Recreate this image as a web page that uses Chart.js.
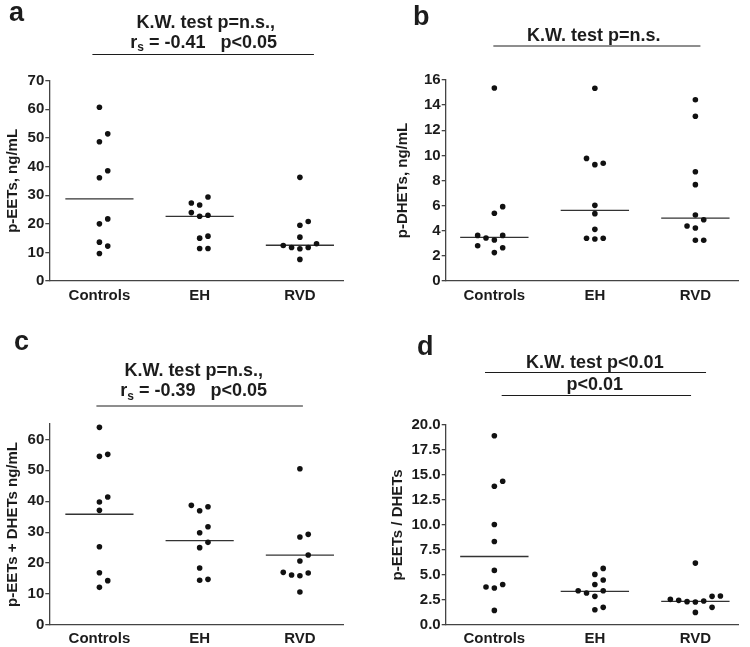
<!DOCTYPE html>
<html>
<head>
<meta charset="utf-8">
<script src="https://cdn.jsdelivr.net/npm/chart.js@4.4.1/dist/chart.umd.min.js"></script>
<style>
  body { margin: 0; background: #fff; }
  #wrap { position: relative; width: 750px; height: 647px; }
  canvas { position: absolute; }
</style>
</head>
<body>
<div id="wrap">
  <canvas id="panelA" width="375" height="310" style="left:0;top:0"></canvas>
  <canvas id="panelB" width="375" height="310" style="left:375px;top:0"></canvas>
  <canvas id="panelC" width="375" height="327" style="left:0;top:320px"></canvas>
  <canvas id="panelD" width="375" height="327" style="left:375px;top:320px"></canvas>
</div>
<script>
// --- data ---
const groups = ['Controls', 'EH', 'RVD'];

// a: p-EETs, ng/mL
const eetsControls = [60.7, 48.64, 51.43, 36.1, 38.54, 19.97, 21.71, 13.58, 12.19, 9.63];
const eetsEH = [26.58, 29.37, 27.28, 22.64, 22.99, 23.91, 14.98, 15.67, 11.38, 11.38];
const eetsRVD = [36.22, 19.5, 20.78, 15.32, 11.26, 11.73, 11.73, 12.42, 13.0, 7.55];
const eetsLines = [28.7, 22.6, 12.5];
const eetsTicks = [0, 10, 20, 30, 40, 50, 60, 70];

// b: p-DHETs, ng/mL
const dhetsControls = [15.36, 5.39, 5.92, 3.26, 3.63, 3.42, 3.63, 2.26, 2.65, 2.81];
const dhetsEH = [15.34, 9.26, 9.37, 9.76, 6.02, 5.36, 4.11, 3.34, 3.40, 3.40];
const dhetsRVD = [14.43, 13.11, 8.70, 7.67, 5.25, 4.88, 4.22, 4.38, 3.24, 3.24];
const dhetsLines = [3.48, 5.62, 5.01];
const dhetsTicks = [0, 2, 4, 6, 8, 10, 12, 14, 16];

// c: p-EETs + DHETs ng/mL
const sumControls = [63.88, 54.51, 55.15, 39.75, 41.37, 37.06, 25.31, 16.91, 12.17, 14.33];
const sumEH = [36.95, 38.24, 38.67, 29.84, 31.78, 25.0, 26.72, 18.42, 14.44, 14.76];
const sumRVD = [50.52, 28.44, 29.30, 20.68, 22.62, 15.94, 16.81, 16.16, 17.02, 10.66];
const sumLines = [35.8, 27.3, 22.6];
const sumTicks = [0, 10, 20, 30, 40, 50, 60];

// d: p-EETs / DHETs
const ratioControls = [18.90, 13.85, 14.35, 10.03, 8.34, 5.45, 3.69, 4.05, 3.79, 1.46];
const ratioEH = [5.05, 4.49, 5.65, 4.05, 3.42, 2.86, 3.19, 3.42, 1.53, 1.76];
const ratioRVD = [6.18, 2.29, 2.39, 2.33, 2.46, 1.26, 1.76, 2.56, 2.86, 2.89];
const ratioLines = [6.84, 3.36, 2.36];
const ratioTicks = [0, 2.5, 5, 7.5, 10, 12.5, 15, 17.5, 20];

// --- look ---
const ink = '#1c1c1c';
const axisColor = '#444';
const fontFamily = '"Liberation Sans", Arial, Helvetica, sans-serif';
const slotWidth = 0.083;   // horizontal step between side-by-side dots (x units)
const halfLine = 0.34;     // half width of the centre line (x units)

// place overlapping dots side by side, in the order they are listed
function spread(values, yRange) {
    const gap = yRange * 0.0406;
    const order = [0, 1, -1, -2, 2, -3, 3, -4, 4];
    const placed = [];
    return values.map(v => {
        for (const s of order) {
            if (!placed.some(p => p.s === s && Math.abs(p.v - v) < gap)) {
                placed.push({ v, s });
                return s;
            }
        }
        return 0;
    });
}

// text with an optional subscript piece
function drawParts(ctx, parts, cx, cy) {
    const main = 'bold 18px ' + fontFamily;
    const sub = 'bold 12px ' + fontFamily;
    let total = 0;
    parts.forEach(p => { ctx.font = p.sub ? sub : main; total += ctx.measureText(p.t).width; });
    let x = cx - total / 2;
    ctx.textAlign = 'left';
    ctx.textBaseline = 'middle';
    parts.forEach(p => {
        ctx.font = p.sub ? sub : main;
        ctx.fillText(p.t, x, p.sub ? cy + 5 : cy);
        x += ctx.measureText(p.t).width;
    });
}

const annotate = {
    id: 'annotate',
    afterDraw(chart, args, opts) {
        const ctx = chart.ctx;
        const xs = chart.scales.x;
        ctx.save();
        ctx.fillStyle = ink;
        ctx.font = 'bold 27px ' + fontFamily;
        ctx.textAlign = 'left';
        ctx.textBaseline = 'alphabetic';
        ctx.fillText(opts.letter, opts.letterX, opts.letterY);

        ctx.strokeStyle = ink;
        ctx.lineWidth = 1;
        opts.bars.forEach(b => {
            ctx.beginPath();
            ctx.moveTo(xs.getPixelForValue(b.from), b.y + 0.5);
            ctx.lineTo(xs.getPixelForValue(b.to), b.y + 0.5);
            ctx.stroke();
        });
        opts.texts.forEach(t => drawParts(ctx, t.parts, xs.getPixelForValue(t.at), t.y));
        ctx.restore();
    }
};

function makePanel(id, p) {
    const yRange = p.yMax;
    const sets = [p.controls, p.eh, p.rvd];
    const datasets = [];
    sets.forEach((vals, g) => {
        const slots = spread(vals, yRange);
        datasets.push({
            type: 'scatter',
            data: vals.map((v, i) => ({ x: g + 1 + slots[i] * slotWidth, y: v })),
            pointRadius: 2.8,
            pointBackgroundColor: '#111',
            pointBorderWidth: 0,
            clip: false
        });
        datasets.push({
            type: 'line',
            data: [{ x: g + 1 - halfLine, y: p.lines[g] }, { x: g + 1 + halfLine, y: p.lines[g] }],
            borderColor: '#333',
            borderWidth: 1.3,
            pointRadius: 0,
            fill: false
        });
    });

    const tickFont = { family: fontFamily, size: 15, weight: 'bold' };

    new Chart(document.getElementById(id), {
        type: 'scatter',
        data: { datasets },
        options: {
            responsive: false,
            animation: false,
            devicePixelRatio: 1,
            layout: { padding: p.pad },
            plugins: {
                legend: { display: false },
                tooltip: { enabled: false },
                annotate: p.notes
            },
            scales: {
                x: {
                    type: 'linear',
                    min: p.xMin,
                    max: p.xMax,
                    afterBuildTicks: s => { s.ticks = groups.map((g, i) => ({ value: i + 1 })); },
                    afterFit: s => { s.height = p.xHeight; },
                    ticks: {
                        autoSkip: false,
                        maxRotation: 0,
                        padding: p.xPad,
                        color: ink,
                        font: tickFont,
                        callback: v => groups[v - 1]
                    },
                    grid: { display: false, drawTicks: false },
                    border: { display: true, color: axisColor, width: 1.3 }
                },
                y: {
                    min: 0,
                    max: p.yMax,
                    afterBuildTicks: s => { s.ticks = p.ticks.map(v => ({ value: v })); },
                    afterFit: s => { s.width = p.yWidth; },
                    ticks: {
                        padding: 1,
                        color: ink,
                        font: tickFont,
                        callback: p.fmt
                    },
                    grid: {
                        display: true,
                        drawOnChartArea: false,
                        drawTicks: true,
                        tickLength: 4,
                        color: axisColor,
                        lineWidth: 1.3
                    },
                    border: { display: true, color: axisColor, width: 1.3 },
                    title: {
                        display: true,
                        text: p.yTitle,
                        color: ink,
                        font: tickFont,
                        padding: { top: 0, bottom: 0 }
                    }
                }
            }
        },
        plugins: [annotate]
    });
}

const kwNS = [{ t: 'K.W. test p=n.s.,' }];

makePanel('panelA', {
    controls: eetsControls, eh: eetsEH, rvd: eetsRVD, lines: eetsLines,
    ticks: eetsTicks, yMax: 70, fmt: v => v,
    yTitle: 'p-EETs, ng/mL',
    xMin: 0.5, xMax: 3.43, xHeight: 29, xPad: 6, yWidth: 45.3,
    pad: { left: 4, right: 32, top: 80.7, bottom: 0 },
    notes: {
        letter: 'a', letterX: 9, letterY: 21,
        bars: [{ from: 0.93, to: 3.14, y: 54 }],
        texts: [
            { at: 2.06, y: 23, parts: kwNS },
            { at: 2.04, y: 43, parts: [{ t: 'r' }, { t: 's', sub: true }, { t: ' = -0.41   p<0.05' }] }
        ]
    }
});

makePanel('panelB', {
    controls: dhetsControls, eh: dhetsEH, rvd: dhetsRVD, lines: dhetsLines,
    ticks: dhetsTicks, yMax: 16, fmt: v => v,
    yTitle: 'p-DHETs, ng/mL',
    xMin: 0.516, xMax: 3.424, xHeight: 29, xPad: 6, yWidth: 51.7,
    pad: { left: 19, right: 12, top: 80, bottom: 0 },
    notes: {
        letter: 'b', letterX: 38, letterY: 25,
        bars: [{ from: 0.99, to: 3.05, y: 45.5 }],
        texts: [
            { at: 1.99, y: 36, parts: [{ t: 'K.W. test p=n.s.' }] }
        ]
    }
});

makePanel('panelC', {
    controls: sumControls, eh: sumEH, rvd: sumRVD, lines: sumLines,
    ticks: sumTicks, yMax: 65, fmt: v => v,
    yTitle: 'p-EETs + DHETs ng/mL',
    xMin: 0.5, xMax: 3.43, xHeight: 22, xPad: 5, yWidth: 45.3,
    pad: { left: 4, right: 32, top: 103.9, bottom: 0 },
    notes: {
        letter: 'c', letterX: 14, letterY: 30,
        bars: [{ from: 0.97, to: 3.03, y: 85.5 }],
        texts: [
            { at: 1.94, y: 51.5, parts: kwNS },
            { at: 1.94, y: 71.5, parts: [{ t: 'r' }, { t: 's', sub: true }, { t: ' = -0.39   p<0.05' }] }
        ]
    }
});

makePanel('panelD', {
    controls: ratioControls, eh: ratioEH, rvd: ratioRVD, lines: ratioLines,
    ticks: ratioTicks, yMax: 20, fmt: v => v.toFixed(1),
    yTitle: 'p-EETs / DHETs',
    xMin: 0.516, xMax: 3.424, xHeight: 22, xPad: 5, yWidth: 57,
    pad: { left: 13.7, right: 12, top: 104.7, bottom: 0 },
    notes: {
        letter: 'd', letterX: 42, letterY: 35,
        bars: [{ from: 0.907, to: 3.106, y: 52 }, { from: 1.073, to: 2.957, y: 75 }],
        texts: [
            { at: 2.0, y: 43, parts: [{ t: 'K.W. test p<0.01' }] },
            { at: 2.0, y: 65, parts: [{ t: 'p<0.01' }] }
        ]
    }
});
</script>
</body>
</html>
